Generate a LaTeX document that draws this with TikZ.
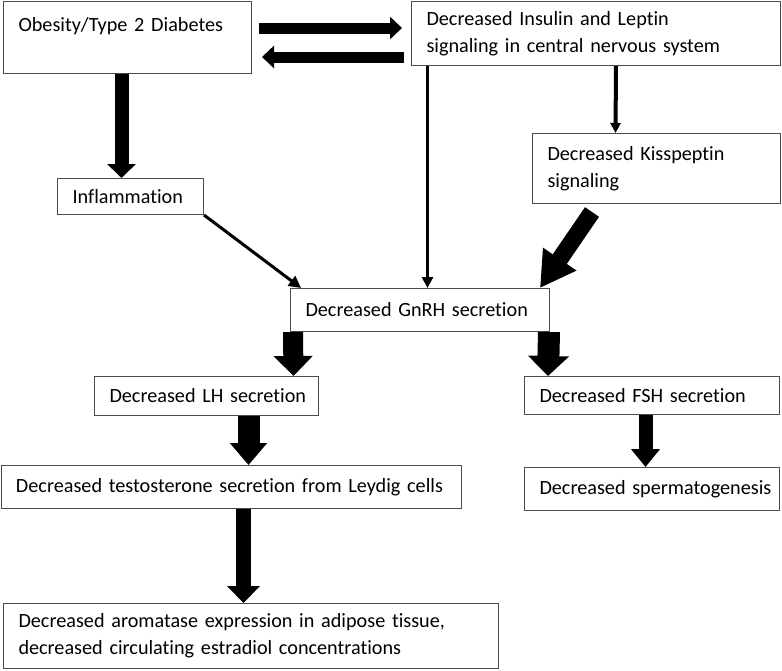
\documentclass[tikz,border=0pt]{standalone}
\usepackage{fontspec}
\setmainfont[Ligatures=NoCommon]{Carlito}
\usetikzlibrary{arrows.meta,calc}
\hyphenpenalty=10000
\tikzset{
  box/.style={draw=black!70, line width=1pt, anchor=north west, align=left,
    inner xsep=15pt, inner ysep=3pt, font=\fontsize{20.2}{27}\selectfont},
  link/.style args={#1/#2}{line width=#1, -{Triangle[length=#2,width=#2]}},
  block/.style args={#1/#2/#3}{line width=#1, -{Triangle[length=#3,width=#2]}}
}
\begin{document}
\begin{tikzpicture}[x=1pt,y=-1pt]
      \useasboundingbox (0,0) rectangle (782,670);
      \node[box, text width=218pt, minimum height=72pt] (obese) at (3,1) {Obesity/Type 2 Diabetes\\ \mbox{}};
      \node[box, text width=339pt, minimum height=64pt] (cns) at (411,1) {Decreased Insulin and Leptin\\signaling in central nervous system};
      \node[box, text width=116pt, minimum height=36pt] (inflam) at (57,178) {\mbox{Inflammation}};
      \node[box, text width=218pt, minimum height=70pt] (kiss) at (532,133) {Decreased Kisspeptin\\signaling};
      \node[box, text width=229pt, minimum height=43pt] (gnrh) at (290,288) {\mbox{Decreased GnRH secretion}};
      \node[box, text width=194pt, minimum height=39pt] (lh) at (94,376) {\mbox{Decreased LH secretion}};
      \node[box, text width=225pt, minimum height=38pt] (fsh) at (524,376) {\mbox{Decreased FSH secretion}};
      \node[box, text width=430pt, minimum height=43pt] (testo) at (0.5,465) {\mbox{Decreased testosterone secretion from Leydig cells}};
      \node[box, text width=225pt, minimum height=43pt] (sperm) at (524,467) {\mbox{Decreased spermatogenesis}};
      \node[box, text width=465pt, minimum height=65pt] (arom) at (3,603) {Decreased aromatase expression in adipose tissue,\\decreased circulating estradiol concentrations};
      \draw[block=11pt/22pt/12pt] ($(obese.north east)+(7,27)$) -- ($(cns.north west)+(-9,27)$);
      \draw[block=11pt/22pt/12pt] ($(cns.north west)+(-7,56)$) -- ($(obese.north east)+(10,56)$);
      \draw[block=14pt/28pt/14pt] ($(obese.south)+(-6,0)$) -- ($(inflam.north)+(-9,0)$);
      \draw[link=4pt/10pt] ($(cns.south)+(20,0)$) -- ($(kiss.north)+(-41,0)$);
      \draw[link=3pt/11pt] ($(cns.south)+(-168.5,0)$) -- ($(gnrh.north)+(7.5,0)$);
      \draw[link=3pt/12pt] (inflam.south east) -- ($(gnrh.north west)+(11,0)$);
      \draw[block=17pt/38pt/35pt] ($(kiss.south west)+(60,8)$) -- ($(gnrh.north east)+(-10,0)$);
      \draw[block=20pt/38pt/20pt] ($(gnrh.south west)+(3,0)$) -- ($(lh.north)+(87,0)$);
      \draw[block=22pt/40pt/20pt] ($(gnrh.south east)+(-1,0)$) -- ($(fsh.north west)+(24,0)$);
      \draw[block=22pt/36pt/22pt] ($(lh.south)+(42,0)$) -- ($(testo.north)+(17.5,0)$);
      \draw[block=14pt/28pt/18pt] ($(fsh.south)+(-6.5,0)$) -- ($(sperm.north)+(-6.5,0)$);
      \draw[block=15pt/32pt/17pt] ($(testo.south)+(12.5,0)$) -- ($(arom.north)+(-7.5,0)$);
\end{tikzpicture}
\end{document}
